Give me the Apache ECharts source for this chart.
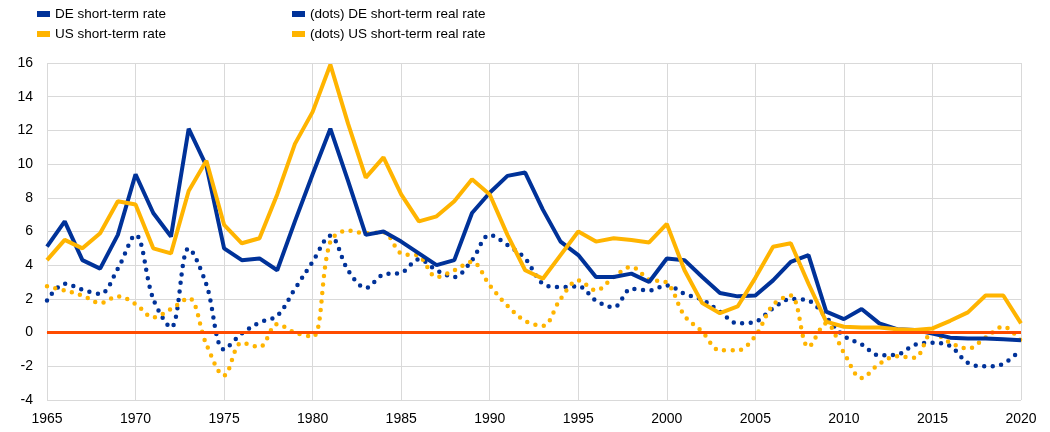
<!DOCTYPE html>
<html lang="en">
<head>
	<meta charset="UTF-8">
	<title>short-term rates</title>
	<script src="https://cdn.jsdelivr.net/npm/echarts@6/dist/echarts.min.js"></script>
	<style>
		html, body { margin: 0; padding: 0; background: #fff; }
	</style>
</head>
<body>
	<div id="rateChart" style="width: 1050px; height: 432px;"></div>
	<script type="text/javascript">

		const years = Array.from({ length: 56 }, (_, i) => 1965 + i);

		const deRate = [5.1, 6.6, 4.3, 3.8, 5.8, 9.4, 7.1, 5.7, 12.1, 9.9,
			5.0, 4.3, 4.4, 3.7, 6.6, 9.4, 12.1, 9.0, 5.8, 6.0,
			5.4, 4.7, 4.0, 4.3, 7.1, 8.3, 9.3, 9.5, 7.3, 5.4,
			4.6, 3.3, 3.3, 3.5, 3.0, 4.4, 4.3, 3.3, 2.35, 2.15,
			2.2, 3.1, 4.2, 4.6, 1.25, 0.8, 1.4, 0.55, 0.2, 0.15,
			-0.05, -0.3, -0.35, -0.35, -0.4, -0.45];

		const usRate = [4.3, 5.5, 5.0, 5.9, 7.8, 7.6, 5.0, 4.7, 8.4, 10.2,
			6.4, 5.3, 5.6, 8.2, 11.2, 13.1, 15.9, 12.4, 9.2, 10.4,
			8.2, 6.6, 6.9, 7.8, 9.1, 8.2, 5.8, 3.7, 3.2, 4.6,
			6.0, 5.4, 5.6, 5.5, 5.35, 6.45, 3.7, 1.75, 1.15, 1.55,
			3.25, 5.1, 5.3, 2.9, 0.65, 0.35, 0.3, 0.3, 0.2, 0.15,
			0.25, 0.7, 1.2, 2.2, 2.2, 0.55];

		const deReal = [1.9, 2.9, 2.55, 2.3, 3.8, 5.8, 2.0, 0.3, 5.0, 2.85,
			-1.0, -0.05, 0.6, 1.0, 2.6, 4.2, 5.75, 3.7, 2.65, 3.45,
			3.55, 4.35, 3.7, 3.3, 4.3, 5.8, 5.2, 4.4, 2.9, 2.7,
			2.75, 1.9, 1.5, 2.6, 2.5, 2.8, 2.3, 1.95, 1.25, 0.55,
			0.65, 1.45, 2.0, 1.9, 0.9, -0.2, -0.7, -1.35, -1.3, -0.72,
			-0.6, -0.8, -1.8, -2.0, -1.85, -1.0];

		const usReal = [2.75, 2.5, 2.2, 1.75, 2.15, 1.7, 0.9, 1.4, 2.05, -0.7,
			-2.55, -0.6, -0.85, 0.5, 0.0, -0.25, 5.4, 6.05, 5.9, 5.95,
			4.7, 4.55, 3.3, 3.7, 4.2, 2.8, 1.6, 0.7, 0.4, 2.0,
			3.1, 2.5, 3.3, 3.9, 3.15, 2.95, 1.0, 0.05, -1.05, -1.05,
			-0.2, 1.65, 2.2, -0.85, 0.55, -1.2, -2.7, -1.85, -1.4, -1.5,
			0.0, -0.6, -0.95, -0.3, 0.35, -0.5];

		const blue = '#003299';
		const yellow = '#ffb400';
		const red = '#ff4b00';

		const pair = (vals) => years.map((y, i) => [y, vals[i]]);

		const rateChart = echarts.init(document.getElementById('rateChart'));

		const legendText = { color: '#000', fontSize: 13.5, fontFamily: 'Liberation Sans, Arial, sans-serif' };

		const legendBase = {
			orient: 'vertical',
			top: 7,
			padding: 0,
			itemGap: 6,
			itemWidth: 13,
			itemHeight: 6,
			icon: 'rect',
			textStyle: legendText
		};

		rateChart.setOption({
			animation: false,
			textStyle: { fontFamily: 'Liberation Sans, Arial, sans-serif' },
			legend: [
				Object.assign({}, legendBase, {
					data: ['DE short-term rate', 'US short-term rate'],
					left: 37
				}),
				Object.assign({}, legendBase, {
					data: ['(dots) DE short-term real rate', '(dots) US short-term real rate'],
					left: 292
				})
			],
			grid: {
				left: 47,
				right: 29,
				top: 63,
				bottom: 32,
				containLabel: false
			},
			xAxis: {
				type: 'value',
				min: 1965,
				max: 2020,
				interval: 5,
				axisLine: { show: true, lineStyle: { color: '#d9d9d9', width: 1 } },
				axisTick: { show: false },
				splitLine: { show: true, lineStyle: { color: '#d9d9d9', width: 1 } },
				axisLabel: { color: '#000', fontSize: 14, margin: 12, formatter: (v) => String(v) }
			},
			yAxis: {
				type: 'value',
				min: -4,
				max: 16,
				interval: 2,
				axisLine: { show: false },
				axisTick: { show: false },
				splitLine: { show: true, lineStyle: { color: '#d9d9d9', width: 1 } },
				axisLabel: { color: '#000', fontSize: 14, margin: 14 }
			},
			series: [{
				name: '(dots) DE short-term real rate',
				type: 'line',
				smooth: 0.35,
				showSymbol: false,
				color: blue,
				lineStyle: { width: 4.5, type: [0, 8.5], cap: 'round' },
				data: pair(deReal),
				markLine: {
					silent: true,
					symbol: 'none',
					label: { show: false },
					lineStyle: { color: red, width: 3, type: 'solid' },
					data: [{ yAxis: 0 }]
				}
			}, {
				name: '(dots) US short-term real rate',
				type: 'line',
				smooth: 0.35,
				showSymbol: false,
				color: yellow,
				lineStyle: { width: 4.5, type: [0, 8.5], cap: 'round' },
				data: pair(usReal)
			}, {
				name: 'DE short-term rate',
				type: 'line',
				showSymbol: false,
				color: blue,
				lineStyle: { width: 4 },
				data: pair(deRate)
			}, {
				name: 'US short-term rate',
				type: 'line',
				showSymbol: false,
				color: yellow,
				lineStyle: { width: 4 },
				data: pair(usRate)
			}]
		});
	</script>
</body>
</html>
